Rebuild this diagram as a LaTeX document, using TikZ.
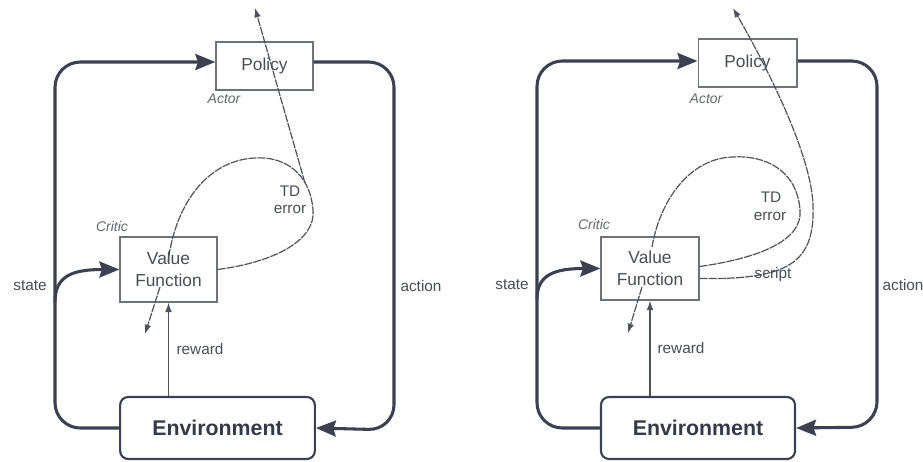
\documentclass[tikz,border=0pt]{standalone}
\usepackage{fontspec}
\setmainfont{Liberation Sans}
\usetikzlibrary{arrows.meta}
\definecolor{ink}{HTML}{3C4050}
\definecolor{thinink}{HTML}{50535B}
\definecolor{boxline}{HTML}{707279}
\definecolor{txt}{HTML}{4A4D55}

\begin{document}
\begin{tikzpicture}[x=0.75pt,y=-0.75pt,
  loopline/.style={draw=ink, line width=2.3pt, rounded corners=19pt,
    -{Stealth[length=15pt,width=12pt,inset=2pt]}},
  tdline/.style={draw=thinink, line width=0.9pt, dash pattern=on 6pt off 0.8pt},
  tiptd/.style={-{Latex[length=7pt,width=5pt]}},
  rewardline/.style={draw=thinink, line width=0.8pt, -{Latex[length=7pt,width=5pt]}},
  plainbox/.style={draw=boxline, line width=1pt, text=txt, inner sep=0pt,
    font=\fontsize{13}{16.5}\selectfont, align=center},
  envbox/.style={draw=ink, line width=1.6pt, rounded corners=6pt, text=ink!90!black,
    inner sep=0pt, minimum width=146pt, minimum height=46.5pt,
    font=\fontsize{16}{18}\bfseries\selectfont},
  lbl/.style={text=txt, inner sep=0pt, font=\fontsize{11.5}{13}\selectfont},
  role/.style={text=txt!85, inner sep=0pt, font=\fontsize{10.5}{12}\itshape\selectfont}
]
\useasboundingbox (0,0) rectangle (923,461);

% ---------------- first diagram: actor-critic ----------------
\node[plainbox, minimum width=72.75pt, minimum height=36pt] (polL) at (264.5,66) {Policy};
\node[plainbox, minimum width=72.75pt, minimum height=48.75pt] (vfL) at (168.5,269.5) {Value\\Function};
\node[envbox] (envL) at (217.5,428) {Environment};

\node[role] (actorL) at (224,99) {Actor};
\node[role] (criticL) at (112,226) {Critic};
\node[lbl] (stateL) at (30,286) {state};
\node[lbl] (actionL) at (421,286) {action};
\node[lbl] (rewardL) at (200,349) {reward};
\node[lbl] (tdL1) at (290,191) {TD};
\node[lbl] (tdL2) at (290,209) {error};

% environment loop
\draw[loopline] (envL.west) -| (55,62) -- ([yshift=3pt]polL.west);
\draw[loopline] ([yshift=3pt]polL.east) -| (394,430) -- (envL.east);
\coordinate (stsL) at (55,302);
\draw[loopline, rounded corners=0pt] (stsL) .. controls (55,276) and (72,269.5) .. (vfL.west);
\draw[rewardline] (vfL.south |- envL.north) -- (vfL.south);

% TD error loop and its outgoing arrows
\coordinate (inL) at (168,262);
\coordinate (tdoL) at (305,183);
\coordinate (upL) at (255,8);
\coordinate (dnsL) at (160,287);
\coordinate (dneL) at (145,334);
\draw[tdline] (vfL.east) .. controls (275,262) and (316,240) .. (313,210)
  .. controls (310,172) and (283,156) .. (255,158)
  .. controls (210,160) and (176,200) .. (inL);
\draw[tdline, tiptd] (tdoL) -- (upL);
\draw[tdline, tiptd] (dnsL) -- (dneL);

% ---------------- second diagram: with script path ----------------
\node[plainbox, minimum width=74pt, minimum height=36pt] (polR) at (747.5,63) {Policy};
\node[plainbox, minimum width=73.5pt, minimum height=47.25pt] (vfR) at (650,268.5) {Value\\Function};
\node[envbox, minimum width=145.5pt] (envR) at (698,428) {Environment};

\node[role] (actorR) at (706,99) {Actor};
\node[role] (criticR) at (594,224) {Critic};
\node[lbl] (stateR) at (512,285) {state};
\node[lbl] (actionR) at (903,285) {action};
\node[lbl] (rewardR) at (681,348) {reward};
\node[lbl] (tdR1) at (771,197) {TD};
\node[lbl] (tdR2) at (770,216) {error};
\node[lbl] (scriptR) at (773,275) {script};

% environment loop
\draw[loopline] (envR.west) -| (537,61) -- ([yshift=1.5pt]polR.west);
\draw[loopline] ([yshift=1.5pt]polR.east) -| (877,427) -- (envR.east);
\coordinate (stsR) at (537,299);
\draw[loopline, rounded corners=0pt] (stsR) .. controls (537,275) and (554,268.5) .. (vfR.west);
\draw[rewardline] (vfR.south |- envR.north) -- (vfR.south);

% TD error loop
\coordinate (inR) at (652,247);
\coordinate (dnsR) at (642,287);
\coordinate (dneR) at (628,333);
\draw[tdline] ([yshift=1.5pt]vfR.east) .. controls (760,258) and (803,240) .. (800,210)
  .. controls (797,170) and (765,155) .. (733,157)
  .. controls (690,158) and (660,200) .. (inR);
\draw[tdline, tiptd] (dnsR) -- (dneR);

% script path up to the policy
\coordinate (upR) at (733,8);
\draw[tdline, tiptd] ([yshift=-7.5pt]vfR.east) .. controls (790,280) and (815,262) .. (813,205)
  .. controls (811,150) and (760,55) .. (upR);
\end{tikzpicture}
\end{document}
